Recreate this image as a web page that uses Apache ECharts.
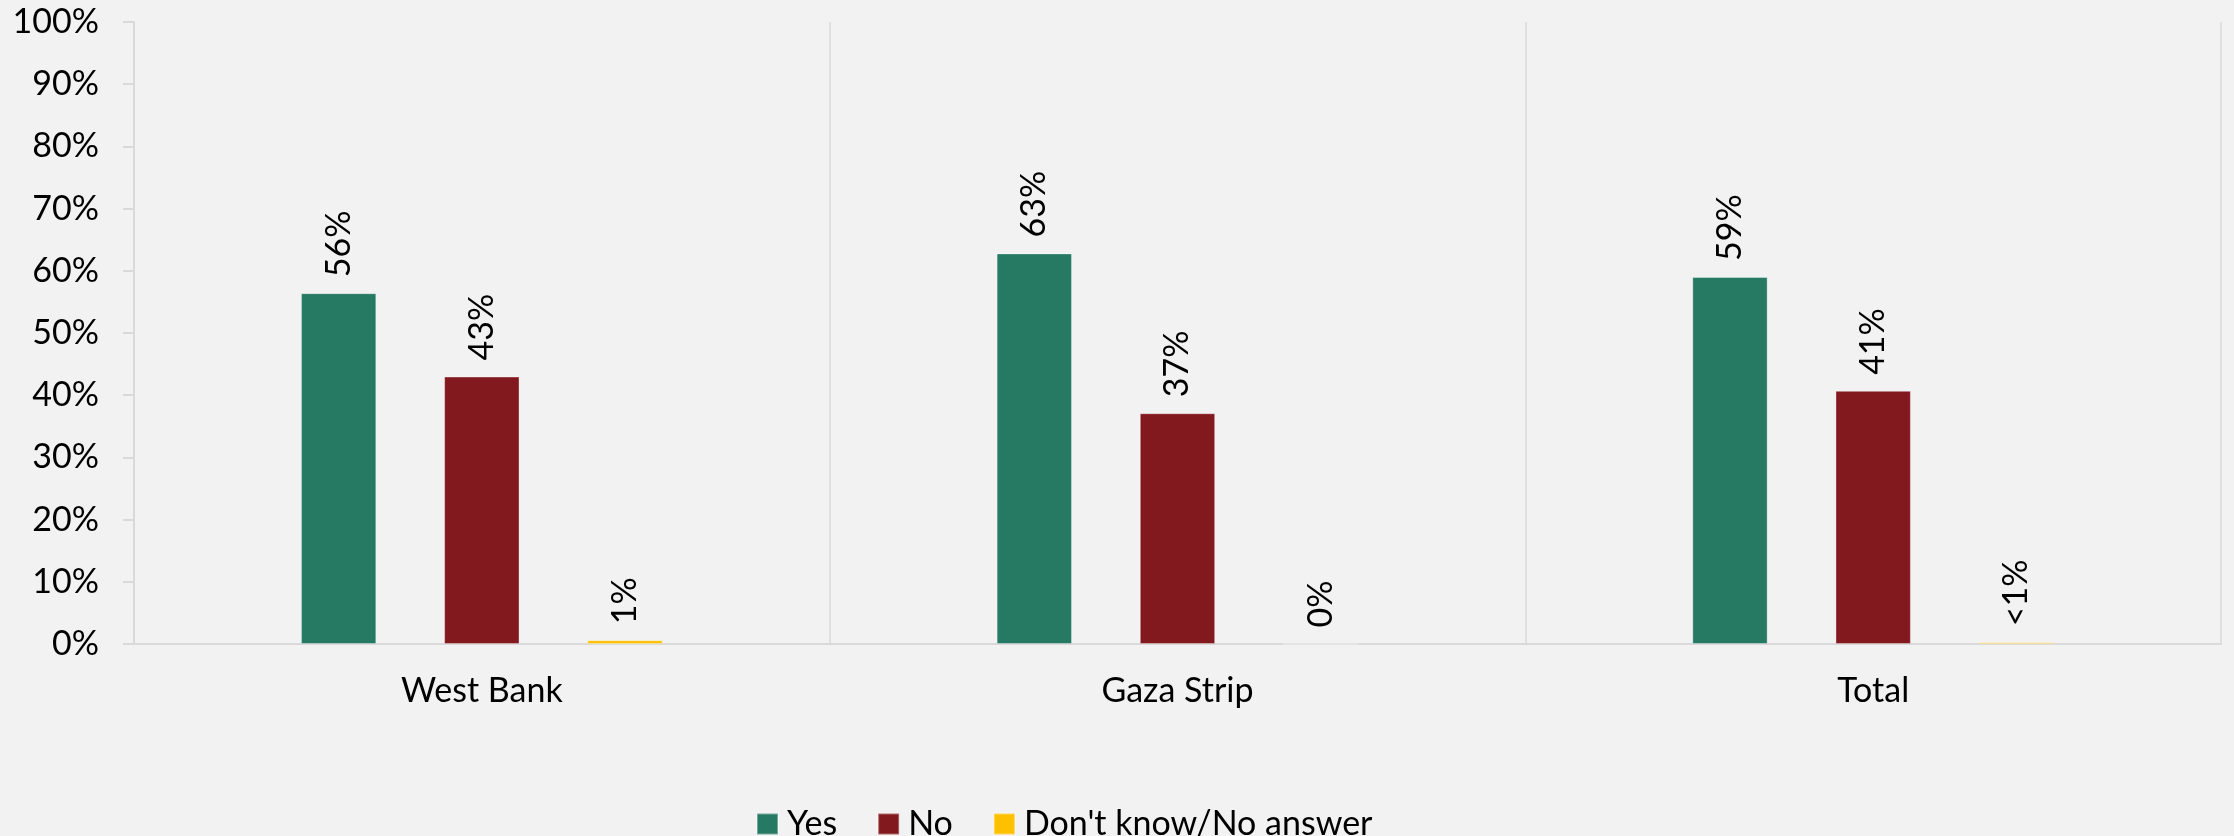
<!DOCTYPE html>
<html>
<head>
<meta charset="utf-8">
<style>
html,body{margin:0;padding:0;background:#F2F2F2;}
#chart{width:2234px;height:836px;}
</style>
<script src="https://cdn.jsdelivr.net/npm/echarts@6/dist/echarts.min.js"></script>
</head>
<body>
<div id="chart"></div>
<script>
const categories = ['West Bank', 'Gaza Strip', 'Total'];
const seriesNames = ['Yes', 'No', "Don't know/No answer"];
const yesValues = [56.4, 62.8, 59.0];
const noValues = [43.0, 37.1, 40.7];
const dkValues = [0.6, 0, 0.3];
const yesLabels = ['56%', '63%', '59%'];
const noLabels = ['43%', '37%', '41%'];
const dkLabels = ['1%', '0%', '<1%'];
const yTicks = [0, 10, 20, 30, 40, 50, 60, 70, 80, 90, 100];
const colors = ['#267A63', '#82191E', '#FFC000'];

const FONT = 'Lato';
const FS = 34;
const chart = echarts.init(document.getElementById('chart'));

function mkSeries(name, values, labels, color) {
  return {
    name: name,
    type: 'bar',
    data: values,
    barGap: '90%',
    barCategoryGap: '48%',
    itemStyle: { color: color, borderColor: 'rgba(255,255,255,0.35)', borderWidth: 1 },
    label: {
      show: true,
      position: 'top',
      rotate: 90,
      align: 'left',
      verticalAlign: 'middle',
      distance: 16,
      fontFamily: FONT,
      fontSize: FS,
      color: '#000',
      formatter: p => labels[p.dataIndex]
    }
  };
}

chart.setOption({
  backgroundColor: '#F2F2F2',
  animation: false,
  grid: { left: 134, right: 13, top: 22, bottom: 192, containLabel: false },
  legend: {
    data: seriesNames,
    left: 751,
    top: 802,
    itemWidth: 21,
    itemHeight: 21,
    itemGap: 40,
    icon: 'rect',
    textStyle: { fontFamily: FONT, fontSize: FS, color: '#000', padding: [0, 0, 0, 4] }
  },
  xAxis: {
    type: 'category',
    data: categories,
    axisLine: { show: true, lineStyle: { color: '#D9D9D9', width: 2 } },
    axisTick: { show: false },
    splitLine: { show: true, lineStyle: { color: '#D9D9D9', width: 1.5 } },
    axisLabel: { fontFamily: FONT, fontSize: FS, color: '#000', margin: 30 }
  },
  yAxis: {
    type: 'value',
    min: 0,
    max: 100,
    interval: 10,
    axisLine: { show: true, lineStyle: { color: '#D9D9D9', width: 2 } },
    axisTick: { show: true, length: 11, lineStyle: { color: '#D9D9D9', width: 2 } },
    splitLine: { show: false },
    axisLabel: {
      fontFamily: FONT, fontSize: FS, color: '#000', margin: 35,
      formatter: v => (yTicks.indexOf(v) >= 0 ? v + '%' : '')
    }
  },
  series: [
    mkSeries(seriesNames[0], yesValues, yesLabels, colors[0]),
    mkSeries(seriesNames[1], noValues, noLabels, colors[1]),
    mkSeries(seriesNames[2], dkValues, dkLabels, colors[2])
  ]
});
</script>
</body>
</html>
